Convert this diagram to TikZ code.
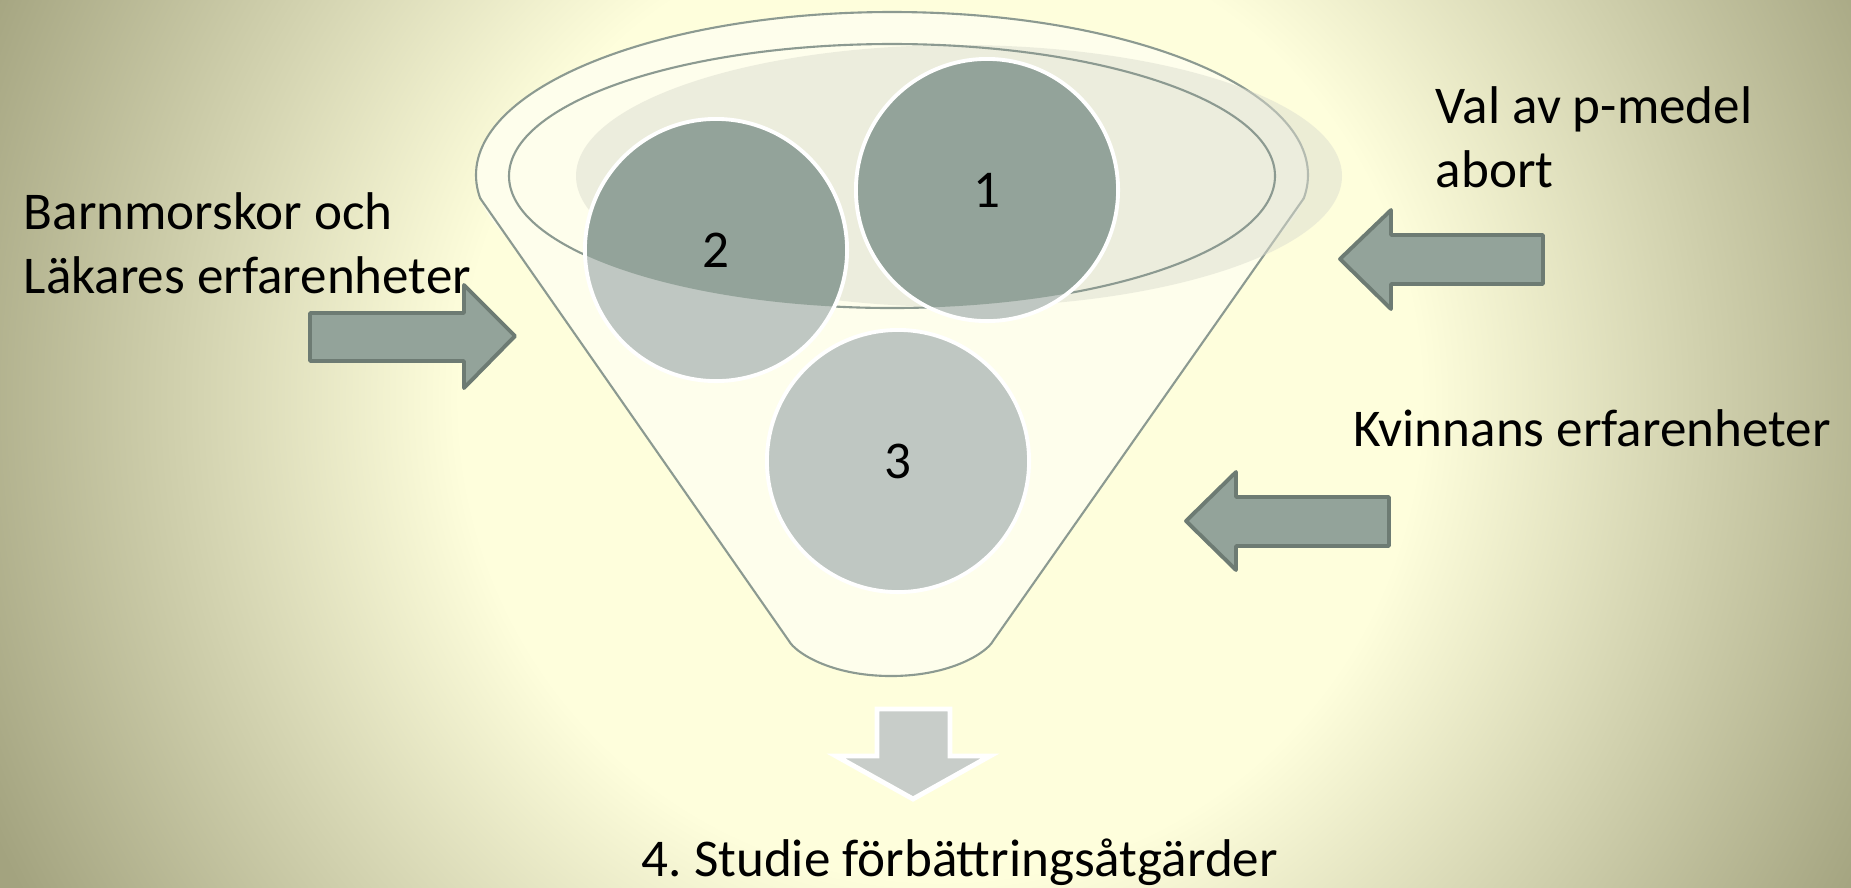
\documentclass[tikz,border=0pt]{standalone}
\usepackage{fontspec}
\setmainfont{Carlito}
\usetikzlibrary{positioning}
\frenchspacing

\definecolor{bglight}{HTML}{FEFEDC}
\definecolor{bgdark}{HTML}{A3A37F}
\definecolor{funnelfill}{HTML}{FEFEEC}
\definecolor{funnelline}{HTML}{8C9A91}
\definecolor{shadowgrey}{HTML}{DCDDD0}
\definecolor{balldark}{HTML}{93A39A}
\definecolor{balllight}{HTML}{BFC7C2}
\definecolor{arrowline}{HTML}{6D7B73}
\definecolor{downfill}{HTML}{C8CDC9}

\pgfdeclareradialshading{bgglow}{\pgfpoint{0bp}{0bp}}{color(0bp)=(bglight); color(10bp)=(bglight); color(21.7bp)=(bgdark); color(50bp)=(bgdark)}

\tikzset{
    funnel/.style={draw=funnelline, line width=0.6pt},
    ball/.style={circle, draw=white, line width=1.1pt, minimum size=2.62cm, inner sep=0pt, font=\fontsize{15.1}{18.2}\selectfont},
    blockarrow/.style={fill=balldark, draw=arrowline, line width=1.1pt, line join=round},
    sidetext/.style={inner sep=0pt, align=left, anchor=base west, font=\fontsize{15.1}{18.2}\selectfont}
}

\begin{document}
\begin{tikzpicture}[x=0.01cm, y=-0.01cm]
    \useasboundingbox (0,0) rectangle (1851,887);
    \begin{scope}
        \clip (0,0) rectangle (1851,887);
        \shade[shading=bgglow] (940,400) circle (1200);
    \end{scope}

    % funnel
    \fill[funnelfill] (892,175) ellipse [x radius=416, y radius=163];
    \fill[funnelfill] (480,198) -- (1304,198) -- (993,641) .. controls (987,652) and (952,676) .. (891,676) .. controls (830,676) and (795,652) .. (789,641) -- cycle;
    \begin{scope}
        \clip (0,0) rectangle (1851,198);
        \draw[funnel] (892,175) ellipse [x radius=416, y radius=163];
    \end{scope}
    \draw[funnel] (480,198) -- (789,641) .. controls (795,652) and (830,676) .. (891,676) .. controls (952,676) and (987,652) .. (993,641) -- (1304,198);
    \fill[shadowgrey, opacity=0.5] (959,176) ellipse [x radius=383, y radius=131];
    \draw[funnel] (892,176) ellipse [x radius=383, y radius=132];

    % balls
    \foreach \x/\y in {987/190, 716/250, 898/461}
        \fill[balllight] (\x,\y) circle (131);
    \begin{scope}
        \clip (892,176) ellipse [x radius=383, y radius=132];
        \foreach \x/\y in {987/190, 716/250}
            \fill[balldark] (\x,\y) circle (131);
    \end{scope}
    \foreach \n/\x/\y in {1/987/190, 2/716/250, 3/898/461}
        \node[ball] (ball\n) at (\x,\y) {\n};

    % arrows
    \draw[blockarrow] (310,313) -- (464,313) -- (464,285) -- (515,336) -- (464,388) -- (464,361) -- (310,361) -- cycle;
    \draw[blockarrow] (1543,235) -- (1391,235) -- (1391,210) -- (1340,259) -- (1391,309) -- (1391,284) -- (1543,284) -- cycle;
    \draw[blockarrow] (1389,497) -- (1236,497) -- (1236,472) -- (1186,521) -- (1236,570) -- (1236,546) -- (1389,546) -- cycle;
    \draw[fill=downfill, draw=white, line width=1.4pt] (877,709) -- (950,709) -- (950,756) -- (990,756) -- (913,799) -- (836,756) -- (877,756) -- cycle;

    % texts
    \node[sidetext] (staff) at (23,293) {Barnmorskor och\\Läkares erfarenheter};
    \node[sidetext] (choice) at (1435,187) {Val av p-medel\\abort};
    \node[sidetext] (women) at (1353,446) {Kvinnans erfarenheter};
    \node[sidetext] (result) at (641,876) {4. Studie förbättringsåtgärder};
\end{tikzpicture}
\end{document}
